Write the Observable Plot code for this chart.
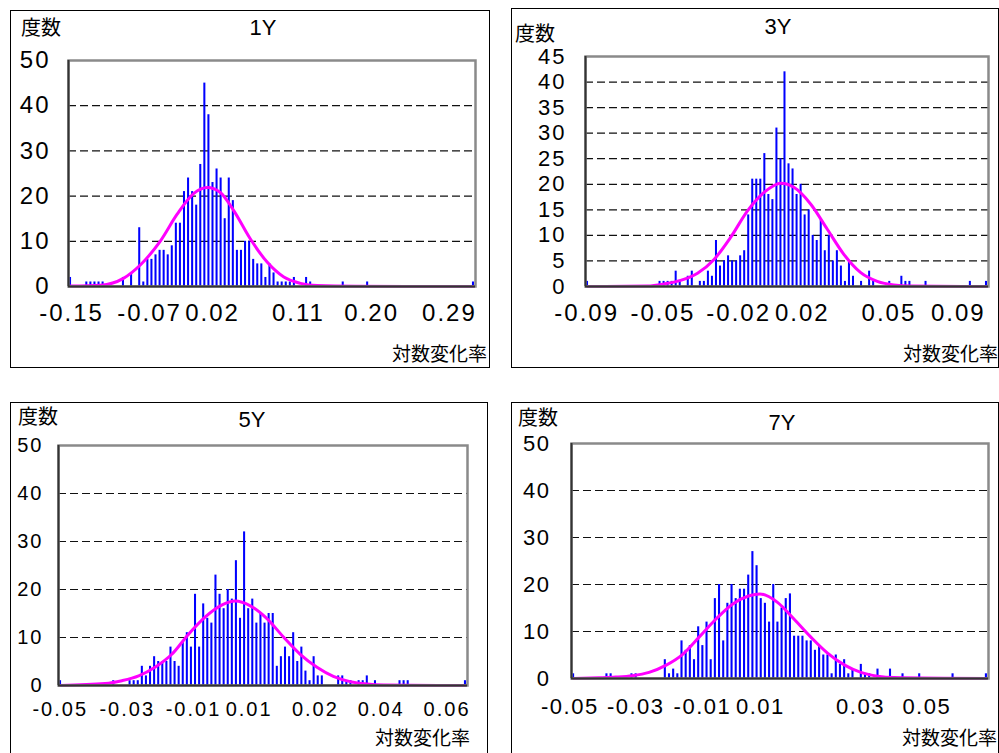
<!DOCTYPE html>
<html><head><meta charset="utf-8">
<script src="https://cdn.jsdelivr.net/npm/d3@7"></script>
<script src="https://cdn.jsdelivr.net/npm/@observablehq/plot@0.6"></script>
<style>
html,body{margin:0;padding:0;background:#fff;}
body{width:999px;height:753px;overflow:hidden;position:relative;font-family:"Liberation Sans",Arial,sans-serif;}
.box{position:absolute;border:1px solid #000;box-sizing:border-box;}
.t{position:absolute;white-space:nowrap;line-height:1;color:#000;}
.cjk{font-family:"Noto Sans CJK JP","Noto Sans CJK SC",sans-serif;}
svg{position:absolute;overflow:visible;}
</style></head><body>
<script>
// ---- data ----
const panelTitles = ["1Y", "3Y", "5Y", "7Y"];
const yLabel = "度数";
const xLabel = "対数変化率";

// frequency per bin (100 bins each)
const counts1Y = [2,0,0,0,1,1,1,1,1,0, 0,0,0,2,0,3,0,13,1,6, 6,7,8,8,7,9,14,14,21,24, 21,18,27,45,38,23,26,24,15,24,
  19,8,8,10,10,6,5,5,2,5, 3,1,1,1,1,2,0,0,2,1, 0,0,0,0,0,0,0,1,0,0, 0,0,0,1,0,0,0,0,0,0, 0,0,0,0,0,0,0,0,0,0, 0,0,0,0,0,0,0,0,0,1];
const counts3Y = [1,0,0,0,0,0,0,0,0,0, 0,0,0,0,0,0,0,0,1,1, 1,1,3,1,0,2,3,0,1,1, 3,2,9,4,5,6,5,5,6,7,
  14,21,21,21,26,18,17,31,25,42, 24,23,18,20,14,15,10,9,13,7, 10,5,7,4,1,5,2,0,1,0, 3,1,0,0,0,1,0,0,2,1, 1,0,0,0,1,0,0,0,0,0, 0,0,0,0,0,1,0,0,0,1];
const counts5Y = [1,0,0,0,0,0,0,0,0,0, 0,0,0,1,0,0,0,1,1,1, 4,2,4,6,5,5,5,8,5,4, 9,11,8,19,8,17,14,13,23,19,
  16,20,18,26,14,32,16,18,13,15, 13,15,15,4,6,8,6,11,5,8, 3,1,6,2,2,0,0,0,2,2, 1,1,0,1,1,2,0,1,0,0, 0,0,0,1,1,1,0,0,0,0, 0,0,0,0,0,0,0,0,0,1];
const counts7Y = [1,0,0,0,0,0,0,0,1,1, 0,0,0,0,1,1,0,0,0,0, 0,0,4,1,2,1,8,6,7,4, 11,7,12,4,17,20,8,16,20,17,
  19,19,22,27,24,17,16,12,20,12, 15,17,18,9,9,9,8,8,6,7, 5,5,1,5,3,4,1,2,0,3, 1,1,0,2,0,0,2,0,0,1, 0,0,0,1,0,0,0,0,0,0, 0,1,0,0,0,0,0,0,0,1];

// fitted curve (bin position, frequency)
const curve1Y_bin = [0, 7.4, 13, 17.2, 22.1, 26.2, 30.3, 33.6, 36.8, 40.1, 44.2, 48.3, 52.4, 56.5, 60.6, 70, 99];
const curve1Y_val = [0.1, 0.3, 1.8, 4.8, 10.1, 16, 20.6, 21.9, 20.8, 16.8, 10.5, 5.4, 2.1, 0.7, 0.2, 0.05, 0];
const curve3Y_bin = [0, 14.9, 19, 23.1, 27.3, 31.4, 35.5, 39.7, 43.8, 48, 51.2, 55.4, 59.5, 63.6, 67.8, 71.9, 76, 80.2, 99];
const curve3Y_val = [0, 0.1, 0.5, 1.2, 2.6, 5.3, 9.6, 14.8, 18.4, 20.2, 19.4, 16.1, 11.2, 6.3, 2.7, 1.0, 0.3, 0.1, 0];
const curve5Y_bin = [0, 10.9, 15, 19.1, 23.1, 27.2, 31.3, 35.4, 39.5, 42.7, 46.4, 50.4, 54.5, 58.6, 62.7, 66.7, 70.8, 74.9, 79, 99];
const curve5Y_val = [0, 0.4, 1.0, 2.0, 3.8, 6.5, 10.7, 14.3, 16.8, 17.6, 16.6, 14.0, 10.1, 6.5, 3.8, 1.9, 0.8, 0.3, 0.1, 0];
const curve7Y_bin = [0, 6.1, 10.1, 14.1, 18.1, 22.1, 26.1, 30.1, 34.1, 38.1, 42.1, 44.7, 48.9, 52.9, 56.9, 60.9, 64.9, 68.9, 72.9, 76.9, 99];
const curve7Y_val = [0, 0.15, 0.3, 0.6, 1.3, 2.8, 5.1, 8.8, 12.6, 15.8, 17.6, 18.0, 16.2, 12.6, 8.8, 5.4, 2.9, 1.3, 0.5, 0.2, 0];

// category-axis tick labels (bin where each label sits, label text)
const ticks1Y_pos = [0.24, 19.4, 34.9, 56, 74, 93.1];
const ticks1Y_lbl = ["-0.15", "-0.07", "0.02", "0.11", "0.20", "0.29"];
const ticks3Y_pos = [-0.2, 18.7, 37.5, 53.3, 74.8, 92.0];
const ticks3Y_lbl = ["-0.09", "-0.05", "-0.02", "0.02", "0.05", "0.09"];
const ticks5Y_pos = [-0.08, 16.3, 32.5, 46.1, 62.3, 78.4, 94.5];
const ticks5Y_lbl = ["-0.05", "-0.03", "-0.01", "0.01", "0.02", "0.04", "0.06"];
const ticks7Y_pos = [-0.9, 14.9, 30.9, 44.8, 68.8, 84.7];
const ticks7Y_lbl = ["-0.05", "-0.03", "-0.01", "0.01", "0.03", "0.05"];

const yMax = [50, 45, 50, 50];
const yStep = [10, 5, 10, 10];

// ---- layout (page pixels) ----
const layout = [
  {box:[10,10,480,358], plot:[68,60,475,286], title:[263,28], yl:[21,27], xl:[487,352], fs:24, xfs:24, yPad:18, xDy:34, ls:2},
  {box:[511,8,488,360], plot:[585,56,988,286], title:[778,27], yl:[515,33], xl:[998,352], fs:22, xfs:24, yPad:19, xDy:34, ls:2},
  {box:[10,402,478,360], plot:[58,445,467,685], title:[252,420], yl:[18,416], xl:[470,736], fs:20, xfs:20, yPad:15, xDy:30, ls:2},
  {box:[511,402,488,360], plot:[571,443,988,678], title:[782,423], yl:[518,417], xl:[997,736], fs:22, xfs:22, yPad:21, xDy:35, ls:1.5}
];

const series = [
  {counts: counts1Y, cb: curve1Y_bin, cv: curve1Y_val, tp: ticks1Y_pos, tl: ticks1Y_lbl},
  {counts: counts3Y, cb: curve3Y_bin, cv: curve3Y_val, tp: ticks3Y_pos, tl: ticks3Y_lbl},
  {counts: counts5Y, cb: curve5Y_bin, cv: curve5Y_val, tp: ticks5Y_pos, tl: ticks5Y_lbl},
  {counts: counts7Y, cb: curve7Y_bin, cv: curve7Y_val, tp: ticks7Y_pos, tl: ticks7Y_lbl}
];

function addText(txt, x, y, size, anchor, cls) {
  const d = document.createElement("div");
  d.className = "t" + (cls ? " " + cls : "");
  d.textContent = txt;
  d.style.fontSize = size + "px";
  document.body.appendChild(d);
  const w = d.offsetWidth, h = d.offsetHeight;
  let left = x;
  if (anchor === "middle") left = x - w / 2;
  else if (anchor === "end") left = x - w;
  d.style.left = left + "px";
  d.style.top = (y - h / 2) + "px";
}

series.forEach((s, k) => {
  const L = layout[k];
  const [bx, by, bw, bh] = L.box;
  const box = document.createElement("div");
  box.className = "box";
  Object.assign(box.style, {left: bx + "px", top: by + "px", width: bw + "px", height: bh + "px"});
  document.body.appendChild(box);

  const bars = s.counts.map((c, i) => ({i, c})).filter(d => d.c > 0);
  const curve = s.cb.map((b, j) => ({b, v: s.cv[j]}));
  const ticks = s.tp.map((p, j) => ({p, s: s.tl[j]}));
  const yt = d3.range(0, yMax[k] + 1e-9, yStep[k]);
  const grid = yt.filter(v => v > 0 && v < yMax[k]);
  const [pl, pt, pr, pb] = L.plot;

  const svg = Plot.plot({
    width: bw, height: bh,
    marginLeft: pl - bx, marginTop: pt - by, marginRight: bx + bw - pr, marginBottom: by + bh - pb,
    x: {type: "linear", domain: [-0.5, 99.5], axis: null},
    y: {domain: [0, yMax[k]], axis: null},
    style: {fontFamily: "'Liberation Sans', Arial, sans-serif", background: "transparent", color: "#000", letterSpacing: L.ls + "px"},
    marks: [
      Plot.ruleY(grid, {stroke: "#111", strokeWidth: 1.2, strokeDasharray: "8,4"}),
      Plot.rect(bars, {x1: d => d.i - 0.25, x2: d => d.i + 0.25, y1: 0, y2: "c", fill: "#0000ff"}),
      Plot.line(curve, {x: "b", y: "v", stroke: "#ff00ff", strokeWidth: 3, curve: "monotone-x"}),
      Plot.frame({stroke: "#8a8a8a", strokeWidth: 2.5}),
      Plot.ruleX([-0.5], {stroke: "#333", strokeWidth: 2}),
      Plot.ruleY([0], {stroke: "#333", strokeWidth: 2}),
      Plot.text(yt, {y: d => d, text: d => String(d), frameAnchor: "left", textAnchor: "end", dx: -L.yPad, fontSize: L.fs, fill: "#000"}),
      Plot.text(ticks, {x: "p", text: "s", frameAnchor: "bottom", dy: L.xDy, fontSize: L.xfs, fill: "#000"})
    ]
  });
  svg.style.left = bx + "px";
  svg.style.top = by + "px";
  document.body.appendChild(svg);

  addText(panelTitles[k], L.title[0], L.title[1], 22, "middle");
  addText(yLabel, L.yl[0], L.yl[1], 20, "start", "cjk");
  addText(xLabel, L.xl[0], L.xl[1], 19, "end", "cjk");
});
</script>
</body></html>
